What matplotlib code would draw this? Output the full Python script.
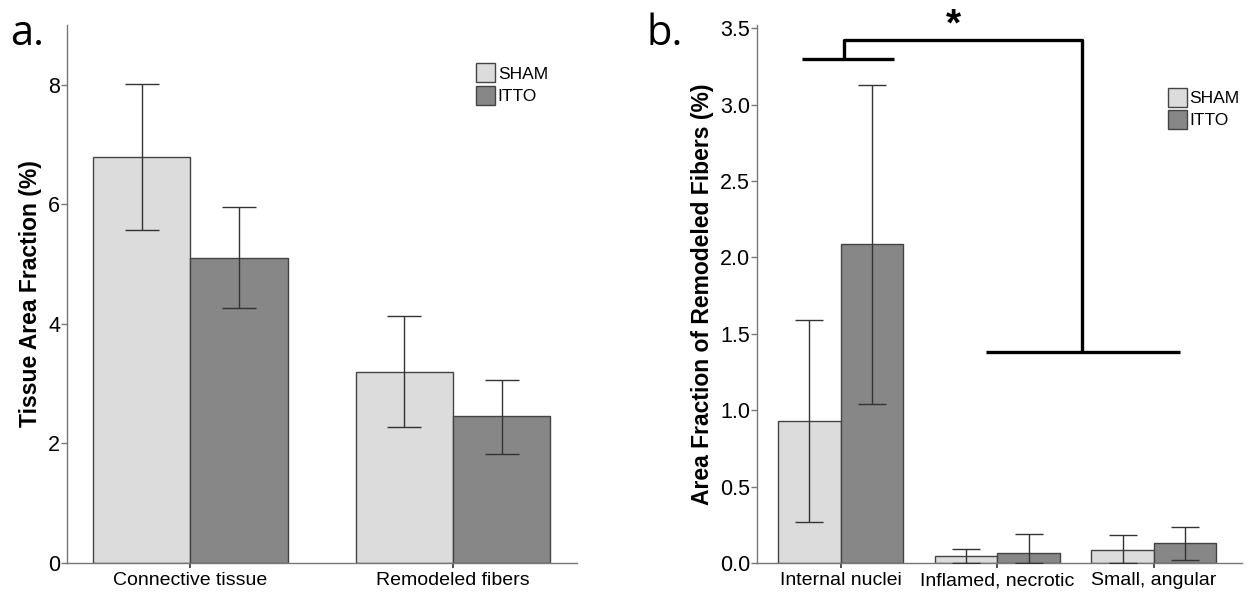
import matplotlib.pyplot as plt
import numpy as np

plt.rcParams['font.family'] = ['Liberation Sans', 'DejaVu Sans']

groups = ['SHAM', 'ITTO']
colors = ['#dcdcdc', '#878787']

# panel a
cats_a = ['Connective tissue', 'Remodeled fibers']
sham_a = [6.8, 3.2]
itto_a = [5.11, 2.46]
sham_a_lo = [5.58, 2.27]
sham_a_hi = [8.02, 4.13]
itto_a_lo = [4.27, 1.83]
itto_a_hi = [5.95, 3.07]

# panel b
cats_b = ['Internal nuclei', 'Inflamed, necrotic', 'Small, angular']
sham_b = [0.93, 0.048, 0.083]
itto_b = [2.09, 0.063, 0.129]
sham_b_lo = [0.27, 0.0, 0.0]
sham_b_hi = [1.59, 0.093, 0.18]
itto_b_lo = [1.04, 0.0, 0.02]
itto_b_hi = [3.13, 0.19, 0.237]

fig = plt.figure(figsize=(12.49, 5.95), dpi=100)
ax1 = fig.add_axes([0.0536, 0.0538, 0.408, 0.904])
ax2 = fig.add_axes([0.606, 0.0538, 0.388, 0.904])


def draw(ax, cats, sham, itto, s_lo, s_hi, i_lo, i_hi, w, cap):
    x = np.arange(len(cats))
    for vals, lo, hi, col, off, lab in [(sham, s_lo, s_hi, colors[0], -w / 2, groups[0]),
                                         (itto, i_lo, i_hi, colors[1], w / 2, groups[1])]:
        vals = np.array(vals)
        err = [vals - np.array(lo), np.array(hi) - vals]
        ax.bar(x + off, vals, w, color=col, edgecolor='#444444', linewidth=1.0, label=lab, zorder=2)
        ax.errorbar(x + off, vals, yerr=err, fmt='none', ecolor='#333333', elinewidth=1.0,
                    capsize=cap, capthick=1.0, zorder=3)
    ax.set_xticks(x)
    ax.set_xticklabels(cats, fontsize=14)
    for s in ['top', 'right']:
        ax.spines[s].set_visible(False)
    for s in ['left', 'bottom']:
        ax.spines[s].set_color('#777777')
        ax.spines[s].set_linewidth(1.0)
    ax.tick_params(axis='x', length=7, width=1.2, color='#333333', pad=3, direction='inout')
    ax.tick_params(axis='y', length=4, width=1.0, color='#777777', labelsize=15.5, pad=1)
    ax.legend(frameon=False, fontsize=12.5, handlelength=1.1, handleheight=1.3,
              handletextpad=0.15, labelspacing=0.2, borderpad=0, loc='upper left')


draw(ax1, cats_a, sham_a, itto_a, sham_a_lo, sham_a_hi, itto_a_lo, itto_a_hi, 0.37, 12)
ax1.set_xlim(-0.47, 1.47)
ax1.set_ylim(0, 9.0)
ax1.set_yticks([0, 2, 4, 6, 8])
ax1.set_ylabel('Tissue Area Fraction (%)', fontsize=16.5, fontweight='bold', labelpad=4)
ax1.get_legend().set_bbox_to_anchor((0.786, 0.945))

draw(ax2, cats_b, sham_b, itto_b, sham_b_lo, sham_b_hi, itto_b_lo, itto_b_hi, 0.4, 10)
ax2.set_xlim(-0.535, 2.56)
ax2.set_ylim(0, 3.52)
ax2.set_yticks([0, 0.5, 1.0, 1.5, 2.0, 2.5, 3.0, 3.5])
ax2.set_yticklabels(['0.0', '0.5', '1.0', '1.5', '2.0', '2.5', '3.0', '3.5'])
ax2.set_ylabel('Area Fraction of Remodeled Fibers (%)', fontsize=16.5, fontweight='bold', labelpad=4)
ax2.get_legend().set_bbox_to_anchor((0.83, 0.9))

# significance bracket
bk = dict(color='black', linewidth=2.4, solid_capstyle='butt', clip_on=False, zorder=4)
ax2.plot([-0.25, 0.34], [3.30, 3.30], **bk)
ax2.plot([0.02, 0.02, 1.54, 1.54], [3.30, 3.42, 3.42, 1.38], **bk)
ax2.plot([0.93, 2.17], [1.38, 1.38], **bk)
ax2.text(0.72, 3.52, '*', fontsize=28, fontweight='bold', ha='center', va='center', clip_on=False)

fig.text(0.008, 0.925, 'a.', fontsize=30, family=['Open Sans', 'DejaVu Sans'])
fig.text(0.518, 0.925, 'b.', fontsize=30, family=['Open Sans', 'DejaVu Sans'])

fig.savefig('out.png', dpi=100)
